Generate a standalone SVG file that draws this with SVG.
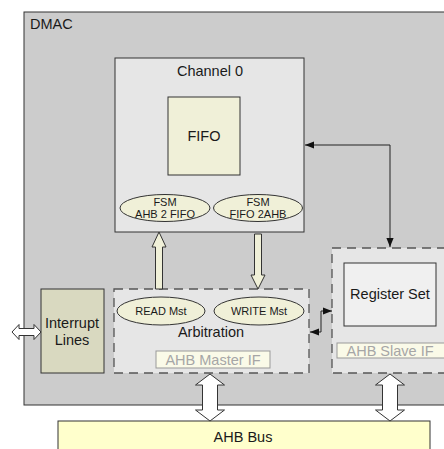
<svg xmlns="http://www.w3.org/2000/svg" width="444" height="449" viewBox="0 0 444 449">
<style>
text{font-family:"Liberation Sans",Arial,sans-serif;fill:#1a1a1a;text-anchor:middle;font-size:14.5px}
.sm{font-size:11px}
.box{stroke:#333;stroke-width:1}
.dash{stroke:#555;stroke-width:1.3;stroke-dasharray:9,6;fill:#e6e6e6}
.ell{fill:#f0f0d8;stroke:#333;stroke-width:1}
.ln{fill:none;stroke:#222;stroke-width:1}
.barr{fill:#f0f0d8;stroke:#333;stroke-width:1}
.warr{fill:#fff;stroke:#333;stroke-width:1}
.if{fill:#fafae8;stroke:#999;stroke-width:1}
.gt{fill:#a6a6a6}
</style>
<defs>
<marker id="ah" viewBox="0 0 10 10" refX="10" refY="5" markerWidth="9" markerHeight="9" markerUnits="userSpaceOnUse" orient="auto-start-reverse">
<path d="M0,1 L10,5 L0,9 Z" fill="#111"/>
</marker>
</defs>
<g id="dmac">
<rect x="24" y="12" width="430" height="393" fill="#cccccc" class="box"/>
<text x="30" y="29" style="text-anchor:start">DMAC</text>
</g>
<g id="channel0">
<rect x="115" y="58" width="189" height="174" fill="#e6e6e6" class="box"/>
<text x="210" y="76">Channel 0</text>
</g>
<g id="fifo">
<rect x="168" y="97" width="72" height="78" fill="#f0f0d8" class="box"/>
<text x="204" y="141">FIFO</text>
</g>
<g id="fsm1">
<ellipse cx="165" cy="208" rx="45" ry="13.5" class="ell"/>
<text x="165" y="206" class="sm">FSM</text>
<text x="165" y="218" class="sm">AHB 2 FIFO</text>
</g>
<g id="fsm2">
<ellipse cx="258" cy="208" rx="44.5" ry="13.5" class="ell"/>
<text x="258" y="206" class="sm">FSM</text>
<text x="258" y="218" class="sm">FIFO 2AHB</text>
</g>
<g id="slave">
<rect x="332" y="248" width="130" height="125" class="dash"/>
<rect x="337" y="343" width="110" height="15" class="if"/>
<text x="390" y="356" class="gt">AHB Slave IF</text>
</g>
<g id="regset">
<rect x="344" y="263" width="92" height="63" fill="#f0f0f0" class="box"/>
<text x="390" y="299">Register Set</text>
</g>
<g id="master">
<rect x="114" y="289" width="195" height="84" class="dash"/>
<text x="211" y="337">Arbitration</text>
<rect x="156" y="351" width="114" height="17" class="if"/>
<text x="213" y="365" class="gt">AHB Master IF</text>
</g>
<g id="readmst">
<ellipse cx="161" cy="311" rx="44" ry="14" class="ell"/>
<text x="161" y="315" class="sm">READ Mst</text>
</g>
<g id="writemst">
<ellipse cx="259" cy="311" rx="45" ry="14" class="ell"/>
<text x="259" y="315" class="sm">WRITE Mst</text>
</g>
<g id="interrupt">
<rect x="41" y="289" width="63" height="84" fill="#d9d9c0" class="box"/>
<text x="72" y="328">Interrupt</text>
<text x="72" y="345">Lines</text>
</g>
<g id="ahbbus">
<rect x="58" y="421" width="372" height="40" fill="#ffffcc" class="box"/>
<text x="243" y="442">AHB Bus</text>
</g>
<g id="connectors">
<polyline points="305,145 390,145 390,247" class="ln" marker-start="url(#ah)" marker-end="url(#ah)"/>
<polyline points="310,332 321,332 321,311 332,311" class="ln" marker-start="url(#ah)" marker-end="url(#ah)"/>
<path d="M159,232 L166,247 L162.5,247 L162.5,289 L155.5,289 L155.5,247 L152,247 Z" class="barr"/>
<path d="M258,289 L265,275 L261.5,275 L261.5,234 L254.5,234 L254.5,275 L251,275 Z" class="barr"/>
<path d="M12,332 L19,324.5 L19,328.5 L34,328.5 L34,324.5 L41,332 L34,339.5 L34,335.5 L19,335.5 L19,339.5 Z" class="warr"/>
<path d="M210,374 L224.5,385 L217.5,385 L217.5,410 L224.5,410 L210,421 L195.5,410 L202.5,410 L202.5,385 L195.5,385 Z" class="warr"/>
<path d="M390,374 L404.5,385 L397.5,385 L397.5,410 L404.5,410 L390,421 L375.5,410 L382.5,410 L382.5,385 L375.5,385 Z" class="warr"/>
</g>
</svg>
